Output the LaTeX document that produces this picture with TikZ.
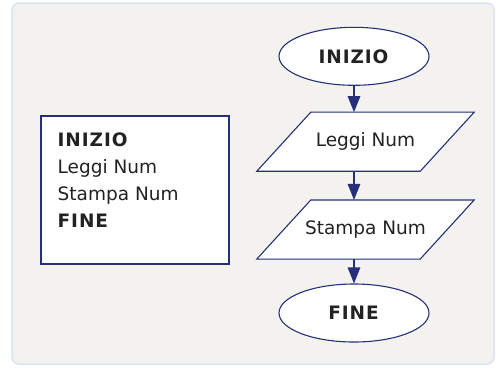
\documentclass[tikz,border=0pt]{standalone}
\usepackage{fontspec}
\setmainfont{DejaVu Sans}[BoldFeatures={LetterSpace=5}]
\usetikzlibrary{shapes.geometric,arrows.meta}
\definecolor{navy}{RGB}{38,48,122}
\definecolor{ink}{RGB}{34,34,34}
\definecolor{panel}{RGB}{243,242,238}
\definecolor{panelrim}{RGB}{218,227,242}
\pgfdeclarelayer{back}
\pgfsetlayers{back,main}
\tikzset{
  txt/.style={font=\fontsize{18.5}{27}\selectfont, text=ink},
  terminal/.style={txt, ellipse, draw=navy, fill=white, line width=1.1pt,
    inner sep=0pt, minimum width=150pt, minimum height=58pt},
  % the node is the mid-height band of the parallelogram
  io/.style={txt, rectangle, inner sep=0pt, minimum width=163pt, minimum height=58.7pt},
  ioframe/.style={draw=navy, fill=white, line width=1.1pt, line join=miter},
  flow/.style={draw=navy, line width=1.4pt, -{Triangle[length=16pt,width=12.5pt]}},
  codebox/.style={draw=navy, fill=white, line width=1.1pt, inner sep=0pt,
    minimum width=188pt, minimum height=148pt},
}
\newcommand{\ioshape}[1]{%
  \begin{pgfonlayer}{back}
    \draw[ioframe] ([xshift=27pt]#1.north west) -- ([xshift=27pt]#1.north east)
      -- ([xshift=-27pt]#1.south east) -- ([xshift=-27pt]#1.south west) -- cycle;
  \end{pgfonlayer}}
\begin{document}
\begin{tikzpicture}[x=1pt,y=-1pt]
  \useasboundingbox (0,0) rectangle (497,367);
  % background panel
  \begin{pgfonlayer}{back}
    \draw[fill=panel, draw=panelrim, line width=1.5pt, rounded corners=7pt]
      (12,3) rectangle (494,364);
  \end{pgfonlayer}

  % pseudocode listing
  \node[codebox] (code) at (135,190) {};
  \node[txt, align=left, anchor=north west, inner sep=0pt] (listing) at (57.5,132.6)
    {\textbf{INIZIO}\\Leggi Num\\Stampa Num\\\textbf{FINE}};

  % flowchart
  \node[terminal] (start) at (354,56.3) {\textbf{INIZIO}};
  \node[io] (read) at (365.5,141.7) {Leggi Num};
  \ioshape{read}
  \node[io] (write) at (365.5,229.5) {Stampa Num};
  \ioshape{write}
  \node[terminal] (stop) at (354,313) {\textbf{FINE}};

  \draw[flow] (start.south) -- (start.south |- read.north);
  \draw[flow] (start.south |- read.south) -- (start.south |- write.north);
  \draw[flow] (start.south |- write.south) -- (stop.north);
\end{tikzpicture}
\end{document}
